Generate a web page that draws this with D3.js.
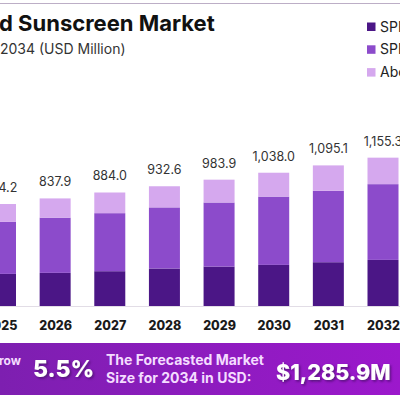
<!DOCTYPE html>
<html>
<head>
<meta charset="utf-8">
<script src="https://cdn.jsdelivr.net/npm/d3@7"></script>
<style>
  html, body { margin: 0; padding: 0; background: #fff; }
  svg { display: block; font-family: Inter, "Open Sans", sans-serif; }
</style>
</head>
<body>
<svg id="chart" width="400" height="400"></svg>
<script>
// 数据：年份与三个系列（USD Million）
const years = ["2025", "2026", "2027", "2028", "2029", "2030", "2031", "2032"];
const seriesNames = ["SPF 15 to 30", "SPF 30 to 50", "Above SPF 50"];
const spfLow = [250, 258, 271, 292, 307, 320, 341, 359];
const spfMid = [405, 430, 452, 476, 499, 532, 556, 590];
const spfHigh = [139.2, 149.9, 161, 164.6, 177.9, 186, 198.1, 206.3];
const totals = [794.2, 837.9, 884.0, 932.6, 983.9, 1038.0, 1095.1, 1155.3];
const colors = ["#4b1686", "#8c4bcb", "#d5a8ee"];

const svg = d3.select("#chart");

// 表格：每年一行
const table = years.map((y, i) => ({
    year: y,
    [seriesNames[0]]: spfLow[i],
    [seriesNames[1]]: spfMid[i],
    [seriesNames[2]]: spfHigh[i],
    total: totals[i]
}));

const stacked = d3.stack().keys(seriesNames)(table);

const x = d3.scalePoint().domain(years).range([0.5, 383]);
const y = d3.scaleLinear().domain([0, 1000]).range([306, 177.6]);
const barW = 31;

// 顶部细线
svg.append("line")
    .attr("x1", 0).attr("x2", 400)
    .attr("y1", 3.5).attr("y2", 3.5)
    .attr("stroke", "#bcaec6").attr("stroke-width", 1.2);

// 标题
svg.append("text")
    .attr("x", -1).attr("y", 31)
    .attr("font-size", 22).attr("font-weight", 700)
    .attr("fill", "#111")
    .text("d Sunscreen Market");

svg.append("text")
    .attr("x", 0).attr("y", 54)
    .attr("font-size", 14)
    .attr("fill", "#333")
    .text("2034 (USD Million)");

// 图例（参考图里右侧被裁掉）
const legend = svg.append("g").selectAll("g")
    .data(seriesNames)
    .join("g")
    .attr("transform", (d, i) => `translate(367, ${22.5 + i * 22.8})`);

legend.append("rect")
    .attr("width", 8.5).attr("height", 8.5)
    .attr("fill", (d, i) => colors[i]);

legend.append("text")
    .attr("x", 13).attr("y", 9)
    .attr("font-size", 14)
    .attr("fill", "#222")
    .text(d => d);

// 基线
svg.append("line")
    .attr("x1", 0).attr("x2", 400)
    .attr("y1", y(0) + 0.5).attr("y2", y(0) + 0.5)
    .attr("stroke", "#e2dde6").attr("stroke-width", 1);

// 堆叠柱
svg.append("g").selectAll("g")
    .data(stacked)
    .join("g")
    .attr("fill", (d, i) => colors[i])
    .selectAll("rect")
    .data(d => d)
    .join("rect")
    .attr("x", d => x(d.data.year) - barW / 2)
    .attr("y", d => y(d[1]))
    .attr("width", barW)
    .attr("height", d => y(d[0]) - y(d[1]));

// 数值标签
svg.append("g").selectAll("text")
    .data(table)
    .join("text")
    .attr("x", d => x(d.year))
    .attr("y", d => y(d.total) - 12)
    .attr("text-anchor", "middle")
    .attr("font-size", 12.5)
    .attr("fill", "#333")
    .text(d => d3.format(",.1f")(d.total));

// 年份轴
const xAxis = svg.append("g")
    .attr("transform", `translate(0, ${y(0)})`)
    .call(d3.axisBottom(x).tickSize(0).tickPadding(15));
xAxis.select(".domain").remove();
xAxis.selectAll("text")
    .attr("font-size", 12.5)
    .attr("font-weight", 800)
    .attr("fill", "#1a1a1a")
    .attr("font-family", "Inter, sans-serif");

// 底部横幅
const defs = svg.append("defs");
const grad = defs.append("linearGradient").attr("id", "band");
grad.append("stop").attr("offset", "0%").attr("stop-color", "#7d1fb0");
grad.append("stop").attr("offset", "100%").attr("stop-color", "#9c18cc");

const shadow = defs.append("filter").attr("id", "shadow")
    .attr("x", "-10%").attr("y", "-20%").attr("width", "130%").attr("height", "160%");
shadow.append("feDropShadow")
    .attr("dx", 1.5).attr("dy", 1.5).attr("stdDeviation", 1)
    .attr("flood-color", "#3d0a5c").attr("flood-opacity", 0.7);

svg.append("rect")
    .attr("x", 0).attr("y", 343)
    .attr("width", 400).attr("height", 52)
    .attr("fill", "url(#band)");

svg.append("text")
    .attr("x", -1).attr("y", 365)
    .attr("font-size", 12).attr("font-weight", 700)
    .attr("fill", "#f4dcff")
    .text("row");

svg.append("text")
    .attr("x", 33).attr("y", 377)
    .attr("font-size", 23).attr("font-weight", 800)
    .attr("fill", "#fff")
    .attr("filter", "url(#shadow)")
    .text("5.5%");

svg.append("text")
    .attr("x", 106).attr("y", 365)
    .attr("font-size", 14).attr("font-weight", 700)
    .attr("fill", "#f4dcff")
    .text("The Forecasted Market");

svg.append("text")
    .attr("x", 106).attr("y", 383)
    .attr("font-size", 14).attr("font-weight", 700)
    .attr("fill", "#f4dcff")
    .text("Size for 2034 in USD:");

svg.append("text")
    .attr("x", 276).attr("y", 380)
    .attr("font-size", 21.5).attr("font-weight", 800)
    .attr("fill", "#fff")
    .attr("filter", "url(#shadow)")
    .text("$1,285.9M");
</script>
</body>
</html>
